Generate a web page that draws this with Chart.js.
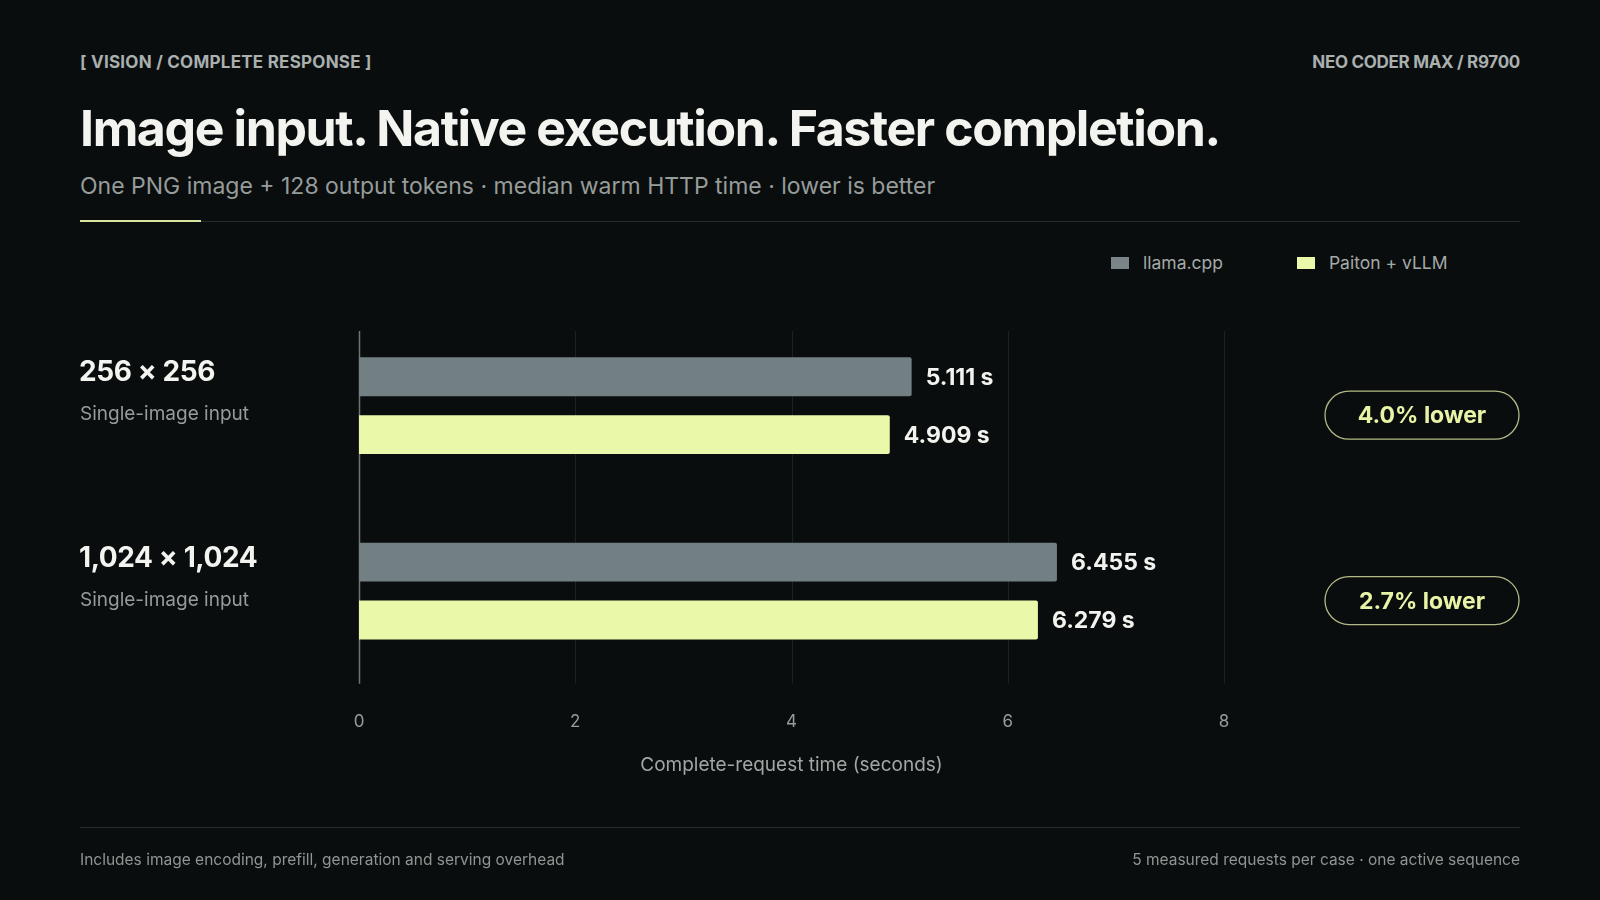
<!DOCTYPE html>
<html>
<head>
<meta charset="utf-8">
<script src="https://cdn.jsdelivr.net/npm/chart.js@4.4.1/dist/chart.umd.min.js"></script>
<style>
  html, body { margin: 0; padding: 0; background: #0a0d0e; }
  body { width: 1600px; height: 900px; position: relative; overflow: hidden; font-family: Inter, "Noto Sans", sans-serif; }
  #chart { position: absolute; left: 0; top: 0; }
  .txt { position: absolute; white-space: nowrap; line-height: 1; }
  .kicker { top: 54px; font-size: 17px; font-weight: 700; color: #a9b0ae; letter-spacing: -0.3px; }
  .title { left: 80px; top: 103px; font-size: 50px; font-weight: 700; color: #f3f4f0; letter-spacing: -1.4px; }
  .sub { left: 80px; top: 175px; font-size: 23px; color: #969c9a; }
  .rule { position: absolute; left: 80px; width: 1440px; height: 1px; background: #262b2c; }
  .accent { position: absolute; left: 80px; top: 220px; width: 121px; height: 2px; background: #d9e59f; }
  .legend { position: absolute; top: 252px; left: 1111px; display: flex; font-size: 17.5px; color: #a4aaa8; }
  .legend .item { display: flex; align-items: center; margin-right: 74px; }
  .legend .sw { width: 18px; height: 12px; margin-right: 14px; }
  .foot { top: 852px; font-size: 15.5px; color: #8f9593; }
</style>
</head>
<body>
<div class="txt kicker" style="left:80px; letter-spacing:0.25px">[ VISION / COMPLETE RESPONSE ]</div>
<div class="txt kicker" style="right:80px">NEO CODER MAX / R9700</div>
<div class="txt title">Image input. Native execution. Faster completion.</div>
<div class="txt sub">One PNG image + 128 output tokens · median warm HTTP time · lower is better</div>
<div class="rule" style="top:221px"></div>
<div class="accent"></div>
<div class="legend" id="legend"></div>
<canvas id="chart" width="1600" height="900"></canvas>
<div class="rule" style="top:827px"></div>
<div class="txt foot" style="left:80px">Includes image encoding, prefill, generation and serving overhead</div>
<div class="txt foot" style="right:80px">5 measured requests per case · one active sequence</div>

<script>
// chart data
const categories = ["256 × 256", "1,024 × 1,024"];
const categoryNotes = ["Single-image input", "Single-image input"];
const seriesNames = ["llama.cpp", "Paiton + vLLM"];
const llamaTimes = [5.111, 6.455];
const paitonTimes = [4.909, 6.279];
const xTicks = [0, 2, 4, 6, 8];

const colors = ["#728083", "#e9f8a9"];

// legend
const legendEl = document.getElementById("legend");
seriesNames.forEach((name, i) => {
  const item = document.createElement("div");
  item.className = "item";
  item.innerHTML = '<span class="sw" style="background:' + (i === 0 ? "#7b8587" : colors[1]) + '"></span>' + name;
  legendEl.appendChild(item);
});

// grid lines start a bit below chart top
const gridPlugin = {
  id: "grid",
  beforeDatasetsDraw(chart) {
    const { ctx, chartArea, scales } = chart;
    ctx.save();
    xTicks.forEach((v) => {
      const x = Math.round(scales.x.getPixelForValue(v)) + 0.5;
      ctx.strokeStyle = v === 0 ? "#6e7476" : "#1c2122";
      ctx.lineWidth = v === 0 ? 1.5 : 1;
      ctx.beginPath();
      ctx.moveTo(x, chartArea.top + 18);
      ctx.lineTo(x, chartArea.bottom);
      ctx.stroke();
    });
    ctx.restore();
  },
};

const labelPlugin = {
  id: "labels",
  afterDatasetsDraw(chart) {
    const { ctx, scales } = chart;
    ctx.save();
    // value labels
    ctx.font = "700 23px Inter";
    ctx.fillStyle = "#f2f3ef";
    ctx.textBaseline = "middle";
    ctx.textAlign = "left";
    chart.data.datasets.forEach((ds, di) => {
      chart.getDatasetMeta(di).data.forEach((bar, i) => {
        ctx.fillText(ds.data[i].toFixed(3) + " s", bar.x + 14, bar.y + 1);
      });
    });
    // category labels and delta pills
    categories.forEach((cat, i) => {
      const y = scales.y.getPixelForValue(i);
      ctx.textAlign = "left";
      ctx.font = "700 28px Inter";
      ctx.letterSpacing = "-0.4px";
      ctx.fillStyle = "#f3f4f0";
      ctx.fillText(cat, 79, y - 33);
      ctx.letterSpacing = "0px";
      ctx.font = "400 19px Inter";
      ctx.fillStyle = "#969c9a";
      ctx.fillText(categoryNotes[i], 80, y + 9);

      const pct = ((llamaTimes[i] - paitonTimes[i]) / llamaTimes[i]) * 100;
      const cy = y + 9.5;
      ctx.beginPath();
      ctx.roundRect(1325, cy - 24, 194, 48, 24);
      ctx.strokeStyle = "#b2b987";
      ctx.lineWidth = 1.3;
      ctx.stroke();
      ctx.font = "700 23px Inter";
      ctx.fillStyle = "#e8f3a6";
      ctx.textAlign = "center";
      ctx.fillText(pct.toFixed(1) + "% lower", 1422, cy + 1);
    });
    ctx.restore();
  },
};

new Chart(document.getElementById("chart"), {
  type: "bar",
  data: {
    labels: categories,
    datasets: [
      { label: seriesNames[0], data: llamaTimes, backgroundColor: colors[0] },
      { label: seriesNames[1], data: paitonTimes, backgroundColor: colors[1] },
    ],
  },
  options: {
    indexAxis: "y",
    responsive: false,
    animation: false,
    categoryPercentage: 0.624,
    barPercentage: 0.672,
    borderRadius: 2,
    layout: { padding: { left: 359, right: 376, top: 313, bottom: 123 } },
    plugins: { legend: { display: false }, tooltip: { enabled: false } },
    scales: {
      y: { display: false },
      x: {
        min: 0,
        max: 8,
        afterBuildTicks: (scale) => { scale.ticks = xTicks.map((v) => ({ value: v })); },
        grid: { display: false, drawTicks: false, tickLength: 0 },
        border: { display: false },
        ticks: { color: "#979d9b", font: { family: "Inter", size: 17 }, padding: 28 },
        title: {
          display: true,
          text: "Complete-request time (seconds)",
          color: "#a1a7a5",
          font: { family: "Inter", size: 19 },
          padding: { top: -6, bottom: 0 },
        },
      },
    },
  },
  plugins: [gridPlugin, labelPlugin],
});
</script>
</body>
</html>
